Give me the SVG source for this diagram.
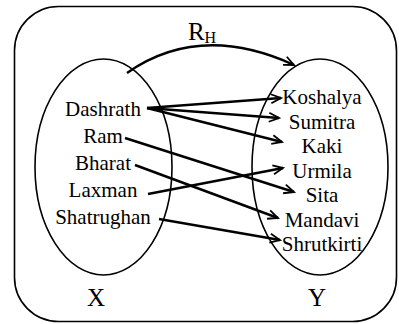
<svg xmlns="http://www.w3.org/2000/svg" width="399" height="324" viewBox="0 0 399 324">
<style>
.frame{fill:none;stroke:#000;stroke-width:1.6}
.set{fill:none;stroke:#000;stroke-width:1.6}
text{font-family:'Liberation Serif',Tinos,'DejaVu Serif',serif;fill:#000}
.lbl{font-size:21px;text-anchor:middle}
.big{font-size:25px}
.sub{font-size:16px}
.conn{fill:none;stroke:#000;stroke-width:2.4;marker-end:url(#ah)}
</style>
<defs>
<marker id="ah" markerUnits="userSpaceOnUse" markerWidth="14" markerHeight="12" viewBox="-12 -6 14 12" refX="0" refY="0" orient="auto">
<path d="M-10,-4.5 L0,0 L-10,4.5" fill="none" stroke="#000" stroke-width="1.8"/>
</marker>
</defs>
<rect id="universe" class="frame" x="14.5" y="6.5" width="382" height="315" rx="44" ry="44"/>
<g id="setX">
<ellipse class="set" cx="103.5" cy="167" rx="68.5" ry="108"/>
<text class="big" x="96" y="306" text-anchor="middle" font-family="Liberation Serif, serif">X</text>
</g>
<g id="setY">
<ellipse class="set" cx="320" cy="167" rx="68" ry="108"/>
<text class="big" x="317" y="306" text-anchor="middle" font-family="Liberation Serif, serif">Y</text>
</g>
<g id="label-RH">
<text class="big" x="188" y="40" font-family="Liberation Serif, serif">R</text><text class="sub" x="204.5" y="43" font-family="Liberation Serif, serif">H</text>
</g>
<g id="x-Dashrath"><text class="lbl" x="103" y="116" font-family="Liberation Serif, serif">Dashrath</text></g>
<g id="x-Ram"><text class="lbl" x="103" y="143" font-family="Liberation Serif, serif">Ram</text></g>
<g id="x-Bharat"><text class="lbl" x="103" y="170" font-family="Liberation Serif, serif">Bharat</text></g>
<g id="x-Laxman"><text class="lbl" x="103" y="197" font-family="Liberation Serif, serif">Laxman</text></g>
<g id="x-Shatrughan"><text class="lbl" x="103" y="224" font-family="Liberation Serif, serif">Shatrughan</text></g>
<g id="y-Koshalya"><text class="lbl" x="322" y="104" font-family="Liberation Serif, serif">Koshalya</text></g>
<g id="y-Sumitra"><text class="lbl" x="322" y="128.5" font-family="Liberation Serif, serif">Sumitra</text></g>
<g id="y-Kaki"><text class="lbl" x="322" y="153" font-family="Liberation Serif, serif">Kaki</text></g>
<g id="y-Urmila"><text class="lbl" x="322" y="177.5" font-family="Liberation Serif, serif">Urmila</text></g>
<g id="y-Sita"><text class="lbl" x="322" y="202" font-family="Liberation Serif, serif">Sita</text></g>
<g id="y-Mandavi"><text class="lbl" x="322" y="226.5" font-family="Liberation Serif, serif">Mandavi</text></g>
<g id="y-Shrutkirti"><text class="lbl" x="322" y="251" font-family="Liberation Serif, serif">Shrutkirti</text></g>
<g id="connectors">
<path class="conn" d="M127,73 Q200,22 294,65"/>
<path class="conn" d="M147,108 L281,98"/>
<path class="conn" d="M147,108 L279,118"/>
<path class="conn" d="M147,108 L282,142"/>
<path class="conn" d="M125,138 L294,192"/>
<path class="conn" d="M135,165 L278,218"/>
<path class="conn" d="M148,194 L283,168"/>
<path class="conn" d="M159,219 L280,240"/>
</g>
</svg>
